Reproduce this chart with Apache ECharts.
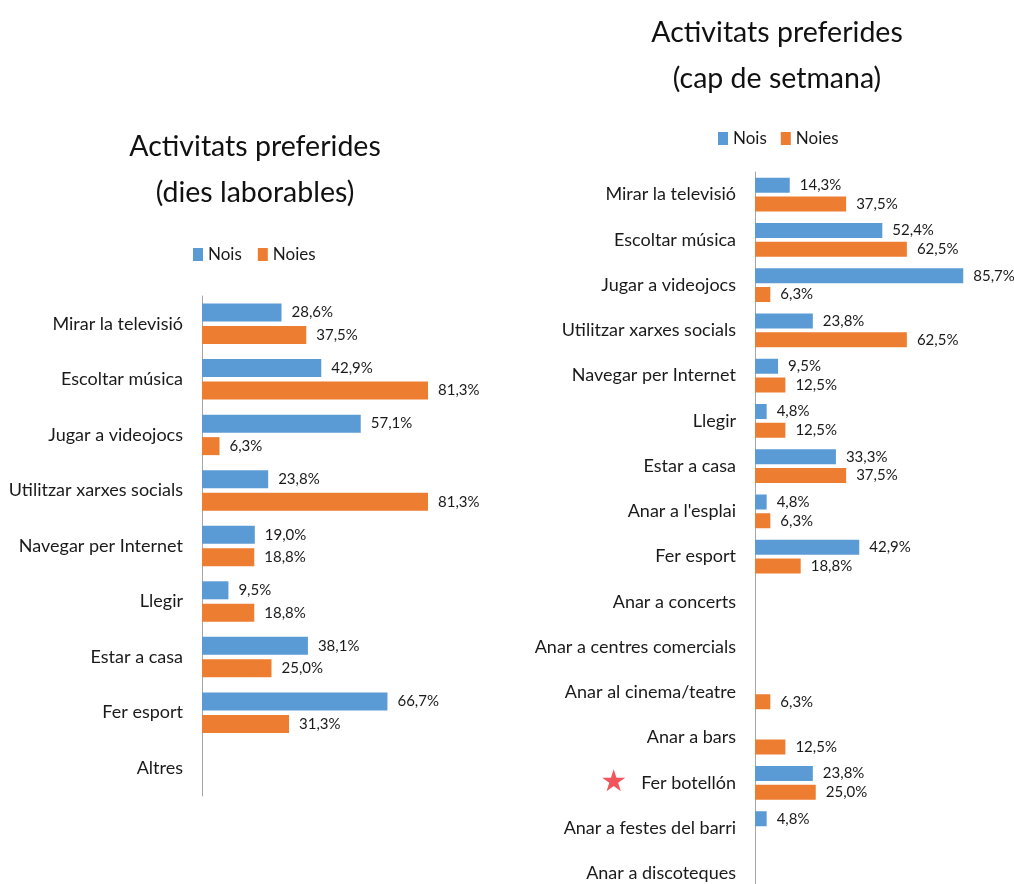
<!DOCTYPE html>
<html>
<head>
<meta charset="utf-8">
<script src="https://cdn.jsdelivr.net/npm/echarts@6/dist/echarts.min.js"></script>
<style>
  html, body { margin: 0; padding: 0; background: #fff; }
  #chart { width: 1014px; height: 884px; }
</style>
</head>
<body>
<div id="chart"></div>
<script>
// dies laborables
const weekdayCats = ["Mirar la televisió", "Escoltar música", "Jugar a videojocs", "Utilitzar xarxes socials",
  "Navegar per Internet", "Llegir", "Estar a casa", "Fer esport", "Altres"];
const weekdayNois = [28.6, 42.9, 57.1, 23.8, 19.0, 9.5, 38.1, 66.7, null];
const weekdayNoies = [37.5, 81.3, 6.3, 81.3, 18.8, 18.8, 25.0, 31.3, null];

// cap de setmana
const weekendCats = ["Mirar la televisió", "Escoltar música", "Jugar a videojocs", "Utilitzar xarxes socials",
  "Navegar per Internet", "Llegir", "Estar a casa", "Anar a l'esplai", "Fer esport", "Anar a concerts",
  "Anar a centres comercials", "Anar al cinema/teatre", "Anar a bars", "Fer botellón",
  "Anar a festes del barri", "Anar a discoteques"];
const weekendNois = [14.3, 52.4, 85.7, 23.8, 9.5, 4.8, 33.3, 4.8, 42.9, null, null, null, null, 23.8, 4.8, null];
const weekendNoies = [37.5, 62.5, 6.3, 62.5, 12.5, 12.5, 37.5, 6.3, 18.8, null, null, 6.3, 12.5, 25.0, null, null];

const starred = "Fer botellón";

const FONT = "Lato, 'DejaVu Sans Condensed', sans-serif";
const BLUE = "#5B9BD5";
const ORANGE = "#ED7D31";

function pct(p) {
  return p.value == null ? "" : p.value.toFixed(1).replace(".", ",") + "%";
}

function barSeries(name, data, idx, color, barWidth) {
  return {
    name: name,
    type: "bar",
    xAxisIndex: idx,
    yAxisIndex: idx,
    data: data,
    barWidth: barWidth,
    barGap: "25%",
    itemStyle: { color: color },
    label: {
      show: true,
      position: "right",
      distance: 10,
      formatter: pct,
      fontFamily: FONT,
      fontSize: 15,
      color: "#1a1a1a",
    },
  };
}

function catAxis(idx, cats) {
  return {
    type: "category",
    gridIndex: idx,
    inverse: true,
    data: cats,
    axisTick: { show: false },
    axisLine: { show: true, lineStyle: { color: "#A6A6A6", width: 1 } },
    axisLabel: {
      margin: 19,
      fontFamily: FONT,
      fontSize: 18,
      color: "#1a1a1a",
      formatter(val) {
        return val === starred ? "{star|★}" + val : val;
      },
      rich: {
        star: { fontFamily: "DejaVu Sans", fontSize: 30, color: "#F2545B", padding: [0, 14, 0, 0] },
      },
    },
  };
}

const titleStyle = { fontFamily: FONT, fontSize: 28.5, fontWeight: "normal", color: "#111", lineHeight: 46 };
const legendStyle = { fontFamily: FONT, fontSize: 17, color: "#1a1a1a" };

const option = {
  animation: false,
  title: [
    { text: "Activitats preferides\n(dies laborables)", left: 250, top: 119, textAlign: "center", textStyle: titleStyle },
    { text: "Activitats preferides\n(cap de setmana)", left: 772, top: 5, textAlign: "center", textStyle: titleStyle },
  ],
  legend: [
    { data: ["Nois", "Noies"], left: 188, top: 241, icon: "rect", itemWidth: 10, itemHeight: 13, itemGap: 16, textStyle: legendStyle },
    { data: ["Nois", "Noies"], left: 713, top: 125, icon: "rect", itemWidth: 10, itemHeight: 13, itemGap: 14, textStyle: legendStyle },
  ],
  grid: [
    { left: 202, top: 296, width: 278, height: 500, outerBoundsMode: "none" },
    { left: 755, top: 172, width: 243, height: 724, outerBoundsMode: "none" },
  ],
  xAxis: [
    { type: "value", gridIndex: 0, min: 0, max: 100, show: false },
    { type: "value", gridIndex: 1, min: 0, max: 100, show: false },
  ],
  yAxis: [catAxis(0, weekdayCats), catAxis(1, weekendCats)],
  series: [
    barSeries("Nois", weekdayNois, 0, BLUE, 18),
    barSeries("Noies", weekdayNoies, 0, ORANGE, 18),
    barSeries("Nois", weekendNois, 1, BLUE, 15),
    barSeries("Noies", weekendNoies, 1, ORANGE, 15),
  ],
};

const chart = echarts.init(document.getElementById("chart"));
chart.setOption(option);
</script>
</body>
</html>
